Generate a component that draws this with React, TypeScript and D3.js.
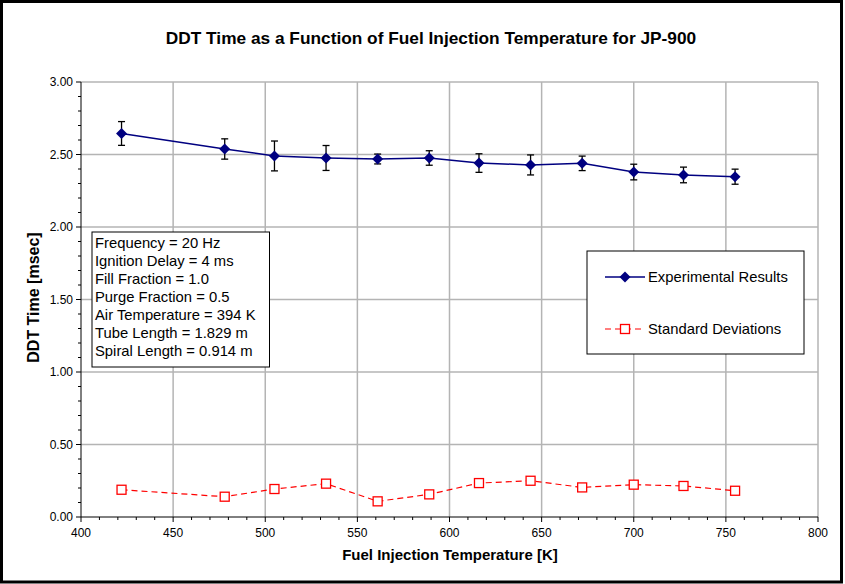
import * as React from 'react';
import { scaleLinear, line, range } from 'd3';

const temps = [422, 478, 505, 533, 561, 589, 616, 644, 672, 700, 727, 755];
const ddtTimes = [2.645, 2.538, 2.49, 2.476, 2.469, 2.476, 2.441, 2.428, 2.439, 2.379, 2.359, 2.347];
const errBars = [0.082, 0.07, 0.103, 0.086, 0.034, 0.05, 0.064, 0.069, 0.05, 0.054, 0.054, 0.052];
const stdDevs = [0.188, 0.14, 0.193, 0.23, 0.108, 0.156, 0.234, 0.25, 0.204, 0.223, 0.214, 0.181];

const xTicks = [400, 450, 500, 550, 600, 650, 700, 750, 800];
const yTicks = [0, 0.5, 1.0, 1.5, 2.0, 2.5, 3.0];
const notes = [
    'Frequency = 20 Hz',
    'Ignition Delay = 4 ms',
    'Fill Fraction = 1.0',
    'Purge Fraction = 0.5',
    'Air Temperature = 394 K',
    'Tube Length = 1.829 m',
    'Spiral Length = 0.914 m',
];

const W = 845;
const H = 584;
const margin = { top: 82, right: 27, bottom: 67, left: 81 };
const font = '"Liberation Sans", Arial, sans-serif';

export default function App() {
    const x = scaleLinear().domain([400, 800]).range([margin.left, W - margin.right]);
    const y = scaleLinear().domain([0, 3]).range([H - margin.bottom, margin.top]);

    const seriesLine = line<number>()
        .x((_, i) => x(temps[i]))
        .y((d) => y(d));

    const diamond = (cx: number, cy: number, r: number) =>
        `M${cx},${cy - r}L${cx + r},${cy}L${cx},${cy + r}L${cx - r},${cy}Z`;

    const x0 = x(400);
    const y0 = y(0);

    return (
        <svg width={W} height={H} style={{ position: 'absolute', left: 0, top: 0 }} fontFamily={font}>
            <rect x={0} y={0} width={W} height={H} fill="#fff" />
            <rect x={1.5} y={1.5} width={840} height={580.5} fill="none" stroke="#000" strokeWidth={3} />

            <text x={431} y={44} textAnchor="middle" fontSize={17.3} fontWeight="bold">
                DDT Time as a Function of Fuel Injection Temperature for JP-900
            </text>

            {/* grid */}
            {xTicks.filter((t) => t > 400).map((t) => (
                <line key={'gx' + t} x1={x(t)} x2={x(t)} y1={y(3)} y2={y0} stroke="#b4b4b4" strokeWidth={1.5} />
            ))}
            {yTicks.filter((t) => t > 0).map((t) => (
                <line key={'gy' + t} x1={x0} x2={x(800)} y1={y(t)} y2={y(t)} stroke="#b4b4b4" strokeWidth={1.5} />
            ))}

            {/* axes */}
            <line x1={x0} x2={x0} y1={y(3)} y2={y0} stroke="#000" strokeWidth={1} />
            <line x1={x0} x2={x(800)} y1={y0} y2={y0} stroke="#000" strokeWidth={1} />
            {range(0, 3.001, 0.1).map((t) => {
                const major = Math.abs(t * 2 - Math.round(t * 2)) < 1e-6;
                return <line key={'ty' + t} x1={x0 - (major ? 5 : 3)} x2={x0} y1={y(t)} y2={y(t)} stroke="#000" />;
            })}
            {range(400, 801, 10).map((t) => (
                <line key={'tx' + t} x1={x(t)} x2={x(t)} y1={y0} y2={y0 + (t % 50 === 0 ? 5 : 3)} stroke="#000" />
            ))}
            {yTicks.map((t) => (
                <text key={'ly' + t} x={x0 - 8} y={y(t) + 4} textAnchor="end" fontSize={12}>
                    {t.toFixed(2)}
                </text>
            ))}
            {xTicks.map((t) => (
                <text key={'lx' + t} x={x(t)} y={y0 + 20} textAnchor="middle" fontSize={12}>
                    {t}
                </text>
            ))}

            <text x={450} y={560} textAnchor="middle" fontSize={15} fontWeight="bold">
                Fuel Injection Temperature [K]
            </text>
            <text transform={`translate(39,${y(1.5) - 2}) rotate(-90)`} textAnchor="middle" fontSize={16} fontWeight="bold">
                DDT Time [msec]
            </text>

            {/* std dev series */}
            <path
                d={seriesLine(stdDevs) || ''}
                fill="none"
                stroke="#ff0000"
                strokeWidth={1.2}
                strokeDasharray="6,4"
            />
            {stdDevs.map((d, i) => (
                <rect key={'sd' + i} x={x(temps[i]) - 4.5} y={y(d) - 4.5} width={9} height={9} fill="#fff" stroke="#ff0000" strokeWidth={1.3} />
            ))}

            {/* experimental results */}
            <path d={seriesLine(ddtTimes) || ''} fill="none" stroke="#000080" strokeWidth={1.5} />
            {ddtTimes.map((d, i) => {
                const cx = x(temps[i]);
                return (
                    <g key={'ex' + i} stroke="#000" strokeWidth={1.3}>
                        <line x1={cx} x2={cx} y1={y(d + errBars[i])} y2={y(d - errBars[i])} />
                        <line x1={cx - 3.5} x2={cx + 3.5} y1={y(d + errBars[i])} y2={y(d + errBars[i])} />
                        <line x1={cx - 3.5} x2={cx + 3.5} y1={y(d - errBars[i])} y2={y(d - errBars[i])} />
                    </g>
                );
            })}
            {ddtTimes.map((d, i) => (
                <path key={'dm' + i} d={diamond(x(temps[i]), y(d), 5.5)} fill="#000080" />
            ))}

            {/* notes box */}
            <rect x={92} y={232} width={177.5} height={135} fill="#fff" stroke="#000" strokeWidth={1} />
            {notes.map((n, i) => (
                <text key={'n' + i} x={95} y={248 + i * 18} fontSize={14.8}>
                    {n}
                </text>
            ))}

            {/* legend */}
            <rect x={587} y={251} width={217} height={103} fill="#fff" stroke="#000" strokeWidth={1} />
            <line x1={605} x2={645} y1={277} y2={277} stroke="#000080" strokeWidth={1.5} />
            <path d={diamond(625, 277, 5.5)} fill="#000080" />
            <text x={648} y={282} fontSize={14.8}>Experimental Results</text>
            <line x1={605} x2={645} y1={329} y2={329} stroke="#ff0000" strokeWidth={1.2} strokeDasharray="6,4" />
            <rect x={620.5} y={324.5} width={9} height={9} fill="#fff" stroke="#ff0000" strokeWidth={1.3} />
            <text x={648} y={334} fontSize={14.8}>Standard Deviations</text>
        </svg>
    );
}
